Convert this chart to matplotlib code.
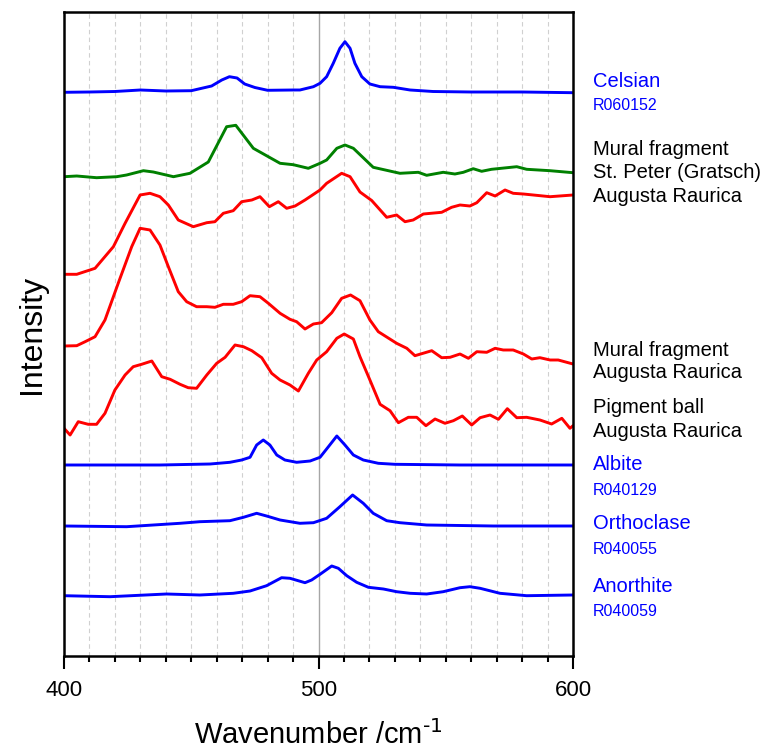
import matplotlib
matplotlib.use("Agg")
import matplotlib.pyplot as plt
from matplotlib.ticker import MultipleLocator

plt.rcParams['font.family'] = ['Liberation Sans', 'DejaVu Sans']

# ---- data (wavenumber / intensity, arbitrary offset units) ----
celsian_x = [400, 410, 420, 430, 440, 450, 458, 462, 465, 468, 471, 475, 480, 490, 492.7, 498, 500.6, 503.2, 505.8,
             508.4, 510.4, 512.4, 514.3, 517, 520.2, 524.2, 529.4, 536, 545, 560, 580, 600]
celsian_y = [563.7, 564, 564.5, 566, 565, 565.3, 570, 576, 579.3, 578, 572, 568.5, 565.7, 566, 566, 569.3, 572.7, 579.3,
             592.7, 607.7, 614.3, 607.7, 592.7, 579.3, 572, 569.3, 568.7, 566, 564.5, 564, 564, 563.3]

gratsch_x = [400, 405, 412.8, 420.7, 424.6, 431.2, 435.1, 443, 449.5, 456.7, 463.9, 467.5, 474.4, 484.9, 490.1, 496,
             500.6, 503.2, 507.2, 510.4, 513.7, 521.5, 532, 539.2, 542.5, 549, 553.6, 556.9, 560.8, 564.1, 568, 577.9,
             581.8, 591, 600]
gratsch_y = [479.3, 480, 478.3, 479.3, 481, 485.3, 484, 479.3, 482.7, 494, 529.3, 530.7, 507.7, 492.7, 491.3, 487.7,
             492.7, 496, 507.7, 511, 507.7, 488.7, 482.7, 483.7, 480.7, 483.7, 482, 483.7, 487.3, 484.7, 486.7, 489.3,
             486.7, 485.3, 483.3]

augusta_x = [400, 405, 412.2, 419.4, 424, 429.9, 433.8, 437.7, 441, 444.9, 450.8, 456.1, 459.3, 462.6, 466.5, 469.8,
             473.8, 477, 480.7, 484.2, 487.5, 490.8, 494.7, 500.6, 503.2, 509.1, 512.4, 516.3, 520.9, 526.8, 530.7, 534,
             537.2, 541.2, 548.4, 552.3, 555.6, 559.5, 562.2, 566.1, 569.4, 573.3, 576.5, 580.5, 591, 600]
augusta_y = [381.7, 381.7, 387.7, 409.3, 432.7, 461, 462.7, 459.3, 451, 436, 429.3, 433.3, 434.3, 442.7, 445.3, 454.3,
             456, 459.3, 449.3, 454.3, 447.7, 450, 456, 466, 472.7, 482.7, 479.3, 464, 455.5, 438.7, 441, 434.3,
             436, 442, 443.7, 448.7, 451, 450, 453.3, 463.3, 460, 466, 462.7, 462, 459.3, 461]

mural_x = [400, 405, 408.3, 412.2, 416.1, 421.3, 426.6, 429.9, 433.8, 437.7, 441, 444.9, 448.2, 452.1, 456.1, 459.3,
           462.6, 466.5, 469.8, 473.1, 477, 480.3, 484.9, 488.8, 491.4, 494.7, 498, 501.2, 505.2, 509.1, 512.6, 516.3,
           520.2, 523.5, 530.7, 534.7, 537.9, 544.5, 548.4, 551.7, 555.6, 558.9, 562.2, 566.1, 569.4, 572.6, 576.5,
           580.5, 583.8, 587, 591, 594.2, 600]
mural_y = [310, 310.3, 314.3, 319.3, 336, 372.7, 409.3, 427.7, 426, 411, 389.3, 364.3, 354.3, 349.3, 349.3, 348.7,
           351.7, 351.7, 354.3, 360.3, 359.3, 352.7, 342.7, 336.7, 334.3, 327, 332, 333.3, 343.3, 357.7, 361, 355.3,
           336, 324.3, 312.7, 307.7, 300.3, 305.3, 298.3, 298.7, 302, 297.7, 304.3, 303.7, 307.7, 306, 306,
           302, 297, 298.3, 296, 296, 292]

pigment_x = [400, 402.4, 405.6, 409.5, 412.8, 416.1, 420, 424, 427.2, 430.5, 434.5, 438.4, 441.7, 445.6, 448.8, 452.1,
             456.1, 460, 463.3, 467.2, 470.5, 473.8, 477.7, 481.6, 484.9, 488.8, 492.1, 496, 499.3, 503.2, 507.2,
             510.1, 513.7, 516.3, 520.2, 524.2, 528.1, 531.4, 535.3, 538.6, 542.2, 545.8, 549.7, 553, 556.5, 560.2,
             563.5, 567.4, 570.7, 574.2, 577.9, 581.8, 587, 591.6, 595.6, 598.8, 600]
pigment_y = [227.7, 221, 234.3, 231.7, 231.7, 242.7, 266, 281, 289.3, 291.7, 295, 279.3, 276.7, 271.7, 268.3, 267.7,
             281, 292.7, 298.7, 311, 309.3, 305.3, 298.3, 282.7, 276, 271, 265, 282.7, 296, 304.3, 317.7,
             322, 317, 299.3, 276, 251.7, 245.3, 233.3, 238.7, 238.7, 230.3, 237, 232.7, 235.3, 240, 231,
             238.3, 241, 236.7, 247.3, 238.3, 238.7, 236, 232, 237.7, 227.7, 230.3]

albite_x = [400, 437.7, 457.4, 465.2, 469.8, 473.1, 475.7, 478.3, 480.9, 483.6, 486.8, 491.4, 496.7, 500.6, 503.9,
            507.2, 510.4, 513.7, 517.6, 523.5, 530, 555.6, 600]
albite_y = [191, 191, 192, 193.7, 196, 198.7, 211, 216, 211, 201, 196, 193.7, 195, 198.7, 209.3,
            220, 211, 201, 196, 192.7, 191.7, 191, 191]

ortho_x = [400, 424.6, 445.6, 453.4, 465.2, 470.5, 475.7, 479.6, 484.9, 492.7, 498, 503.2, 508.4, 513.4, 517.6,
           521.5, 526.8, 532, 542.5, 568.7, 600]
ortho_y = [130, 129.3, 132.7, 134.3, 135.3, 138.7, 142.7, 140, 136, 132.7, 133.3, 137.7, 149.3, 161, 152.7,
           142.7, 135.3, 133.3, 131, 130, 130]

anor_x = [400, 418.1, 440.3, 453.4, 466.5, 473.1, 479.6, 485.5, 488.8, 494.7, 497.3, 500.6, 505.2, 507.8, 511.1,
          515, 519.6, 525.5, 530.7, 536, 542.5, 549, 555.6, 559.5, 563.5, 571.3, 581.8, 600]
anor_y = [60.3, 59.3, 62, 61, 62.7, 65, 70.3, 78.3, 77.7, 73.3, 76, 81.7, 90, 87.7, 80.3,
          73.7, 68.7, 67, 64.3, 62.7, 62, 64.3, 68.3, 69.3, 67.7, 62.7, 60.3, 61]

xticks = [400, 500, 600]

# ---- figure ----
W, H = 776, 752
fig = plt.figure(figsize=(W / 100, H / 100), dpi=100)
ax = fig.add_axes([64 / W, 1 - 656 / H, (573 - 64) / W, (656 - 12) / H])

# vertical grid
for gx in range(410, 600, 10):
    if gx == 500:
        ax.axvline(gx, color='#a6a6a6', lw=1.0, zorder=0)
    else:
        ax.axvline(gx, color='#d0d0d0', lw=0.8, ls=(0, (4, 3)), zorder=0)

BLUE = '#0000ff'
RED = '#ff0000'
GREEN = '#008000'
kw = dict(lw=2.1, solid_joinstyle='round', solid_capstyle='round')
ax.plot(celsian_x, celsian_y, color=BLUE, **kw)
ax.plot(gratsch_x, gratsch_y, color=GREEN, **kw)
ax.plot(augusta_x, augusta_y, color=RED, **kw)
ax.plot(mural_x, mural_y, color=RED, **kw)
ax.plot(pigment_x, pigment_y, color=RED, **kw)
ax.plot(albite_x, albite_y, color=BLUE, **kw)
ax.plot(ortho_x, ortho_y, color=BLUE, **kw)
ax.plot(anor_x, anor_y, color=BLUE, **kw)

ax.set_xlim(400, 600)
ax.set_ylim(0, 644)
ax.set_xticks(xticks)
ax.set_xticklabels([str(t) for t in xticks], fontsize=16)
ax.xaxis.set_minor_locator(MultipleLocator(10))
ax.tick_params(axis='x', which='major', direction='out', length=9, width=1.5, pad=8)
ax.tick_params(axis='x', which='minor', direction='out', length=4.5, width=1.5)
ax.set_yticks([])
for s in ax.spines.values():
    s.set_linewidth(1.8)
    s.set_color('black')

ax.set_xlabel(r'Wavenumber /cm$^{\text{-1}}$', fontsize=21, labelpad=14)
ax.set_ylabel('Intensity', fontsize=23, labelpad=12)

# ---- right-side labels (baseline positions in figure pixels) ----
lx = 593 / W
labels = [
    ('Celsian', 86.7, BLUE, 14.5),
    ('R060152', 110, BLUE, 11.5),
    ('Mural fragment', 155, 'black', 14.5),
    ('St. Peter (Gratsch)', 178, 'black', 14.5),
    ('Augusta Raurica', 201.7, 'black', 14.5),
    ('Mural fragment', 356, 'black', 14.5),
    ('Augusta Raurica', 378.3, 'black', 14.5),
    ('Pigment ball', 413.3, 'black', 14.5),
    ('Augusta Raurica', 437.3, 'black', 14.5),
    ('Albite', 470, BLUE, 14.5),
    ('R040129', 495, BLUE, 11.5),
    ('Orthoclase', 529.3, BLUE, 14.5),
    ('R040055', 554, BLUE, 11.5),
    ('Anorthite', 591.7, BLUE, 14.5),
    ('R040059', 616, BLUE, 11.5),
]
for txt, yb, col, fs in labels:
    fig.text(lx, 1 - yb / H, txt, color=col, fontsize=fs, ha='left', va='baseline')

fig.savefig('out.png', dpi=100)
